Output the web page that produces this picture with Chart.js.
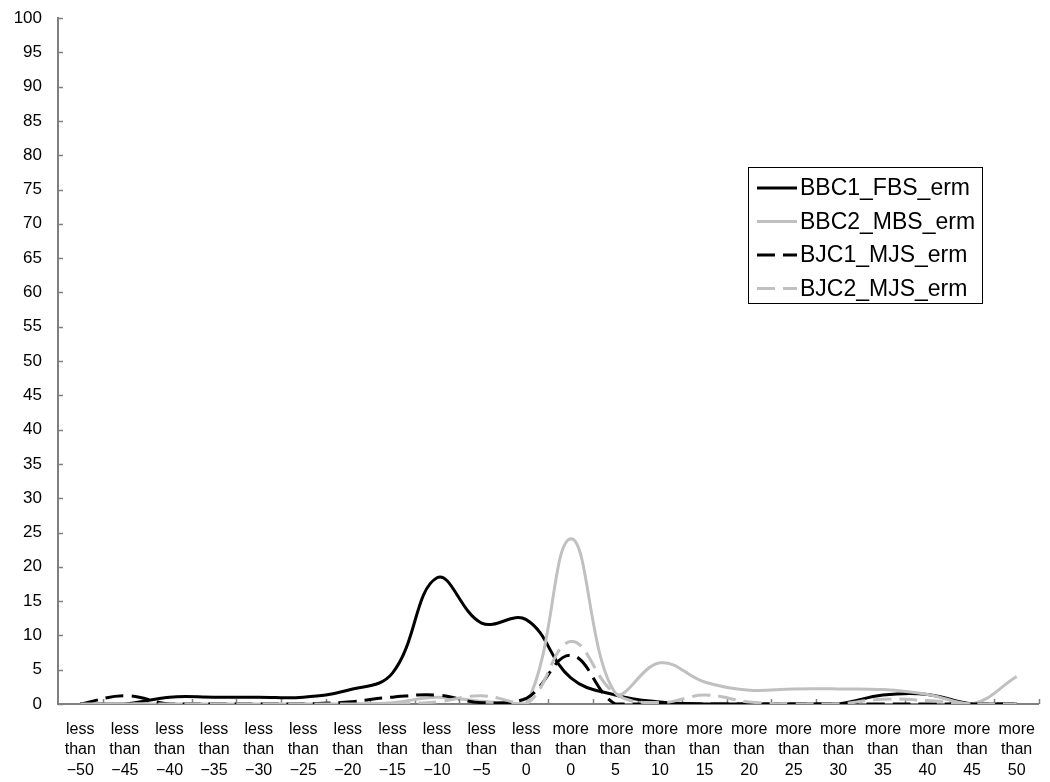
<!DOCTYPE html>
<html>
<head>
<meta charset="utf-8">
<script src="https://cdn.jsdelivr.net/npm/chart.js@4.4.0/dist/chart.umd.min.js"></script>
<style>
    html, body { margin: 0; padding: 0; background: #fff; }
    #wrap { width: 1050px; height: 782px; position: relative; }
</style>
</head>
<body>
<div id="wrap"><canvas id="errChart"></canvas></div>
<script>
// category labels (one line per array entry)
const categories = [
    ["less", "than", "\u221250"], ["less", "than", "\u221245"], ["less", "than", "\u221240"],
    ["less", "than", "\u221235"], ["less", "than", "\u221230"], ["less", "than", "\u221225"],
    ["less", "than", "\u221220"], ["less", "than", "\u221215"], ["less", "than", "\u221210"],
    ["less", "than", "\u22125"], ["less", "than", "0"],
    ["more", "than", "0"], ["more", "than", "5"], ["more", "than", "10"], ["more", "than", "15"],
    ["more", "than", "20"], ["more", "than", "25"], ["more", "than", "30"], ["more", "than", "35"],
    ["more", "than", "40"], ["more", "than", "45"], ["more", "than", "50"]
];

const seriesNames = ["BBC1_FBS_erm", "BBC2_MBS_erm", "BJC1_MJS_erm", "BJC2_MJS_erm"];

const bbc1Values = [0, 0, 1, 1, 1, 1, 2, 4.5, 18.4, 11.8, 12.3, 3.8, 1.3, 0.3, 0, 0, 0, 0, 1.3, 1.4, 0, 0];
const bbc2Values = [0, 0, 0, 0, 0, 0, 0, 0.2, 1.0, 0.4, 0, 24.1, 1.6, 6.0, 3.2, 2.0, 2.2, 2.2, 2.1, 1.4, 0, 4.0];
const bjc1Values = [0, 1.2, 0, 0, 0, 0, 0.3, 1.0, 1.3, 0.2, 0.8, 7.1, 0, 0, 0, 0, 0, 0, 0, 0, 0, 0];
const bjc2Values = [0, 0, 0, 0, 0, 0, 0, 0, 0.3, 1.2, 0, 9.1, 1.5, 0.2, 1.3, 0.3, 0, 0, 0.7, 0.5, 0, 0];

const yMin = 0;
const yMax = 100;
const yStep = 5;

const AXIS_GRAY = "#808080";
const FONT = "'Liberation Sans', Arial, sans-serif";

// inside tick marks, like the original spreadsheet chart
const tickMarks = {
    id: "tickMarks",
    beforeDatasetsDraw(chart) {
        const { ctx, chartArea, scales } = chart;
        ctx.save();
        ctx.strokeStyle = AXIS_GRAY;
        ctx.lineWidth = 1.5;
        ctx.beginPath();
        scales.y.ticks.forEach(t => {
            const y = Math.round(scales.y.getPixelForValue(t.value)) + 0.5;
            ctx.moveTo(chartArea.left, y);
            ctx.lineTo(chartArea.left + 5, y);
        });
        const step = (chartArea.right - chartArea.left) / categories.length;
        for (let i = 1; i <= categories.length; i++) {
            const x = Math.round(chartArea.left + i * step) + 0.5;
            ctx.moveTo(x, chartArea.bottom);
            ctx.lineTo(x, chartArea.bottom - 5);
        }
        ctx.stroke();
        ctx.restore();
    }
};

// boxed legend floating inside the plot
const boxLegend = {
    id: "boxLegend",
    afterDraw(chart) {
        const { ctx } = chart;
        const box = { x: 748.5, y: 167.5, w: 234, h: 136 };
        ctx.save();
        ctx.fillStyle = "#fff";
        ctx.fillRect(box.x, box.y, box.w, box.h);
        ctx.strokeStyle = "#000";
        ctx.lineWidth = 1;
        ctx.strokeRect(box.x, box.y, box.w, box.h);
        ctx.font = `23px ${FONT}`;
        ctx.textBaseline = "middle";
        ctx.textAlign = "left";
        chart.data.datasets.forEach((ds, i) => {
            const y = 188 + i * 33.5;
            ctx.beginPath();
            ctx.setLineDash(ds.borderDash || []);
            ctx.strokeStyle = ds.borderColor;
            ctx.lineWidth = ds.borderWidth;
            ctx.moveTo(757, y);
            ctx.lineTo(797, y);
            ctx.stroke();
            ctx.setLineDash([]);
            ctx.fillStyle = "#000";
            ctx.fillText(ds.label, 800, y + 1);
        });
        ctx.restore();
    }
};

const lineStyle = (label, data, color, dash, order) => ({
    label,
    data,
    borderColor: color,
    backgroundColor: color,
    borderWidth: 3,
    borderDash: dash,
    pointRadius: 0,
    tension: 0.4,
    fill: false,
    order
});

new Chart(document.getElementById("errChart"), {
    type: "line",
    data: {
        labels: categories,
        datasets: [
            lineStyle(seriesNames[0], bbc1Values, "#000000", [], 4),
            lineStyle(seriesNames[1], bbc2Values, "#c0c0c0", [], 3),
            lineStyle(seriesNames[2], bjc1Values, "#000000", [18, 8], 2),
            lineStyle(seriesNames[3], bjc2Values, "#c0c0c0", [18, 8], 1)
        ]
    },
    options: {
        responsive: true,
        maintainAspectRatio: false,
        animation: false,
        layout: { padding: { top: 18, right: 4, left: 0, bottom: 0 } },
        plugins: {
            legend: { display: false },
            tooltip: { enabled: false }
        },
        scales: {
            x: {
                type: "category",
                offset: true,
                grid: { display: false, drawTicks: false },
                border: { display: true, color: AXIS_GRAY, width: 2 },
                ticks: {
                    autoSkip: false,
                    maxRotation: 0,
                    minRotation: 0,
                    padding: 15,
                    color: "#000",
                    font: { family: FONT, size: 16, lineHeight: 1.28 }
                },
                afterFit: (scale) => { scale.height = 78; }
            },
            y: {
                min: yMin,
                max: yMax,
                grid: { display: false, drawTicks: false },
                border: { display: true, color: AXIS_GRAY, width: 2 },
                ticks: {
                    stepSize: yStep,
                    padding: 16,
                    color: "#000",
                    font: { family: FONT, size: 17 }
                },
                afterFit: (scale) => {
                    scale.width = 58;
                    scale.paddingTop = 0;
                    scale.paddingBottom = 0;
                }
            }
        }
    },
    plugins: [tickMarks, boxLegend]
});
</script>
</body>
</html>
